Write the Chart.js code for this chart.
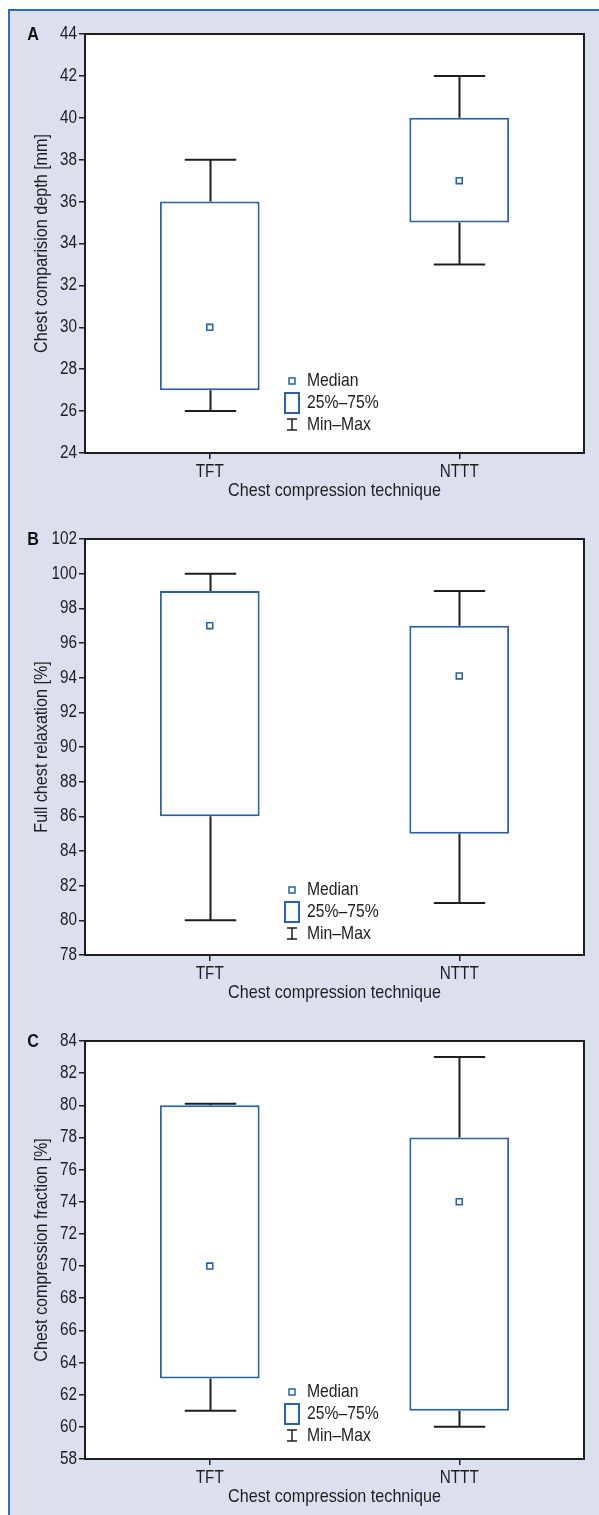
<!DOCTYPE html>
<html>
<head>
<meta charset="utf-8">
<script src="https://cdn.jsdelivr.net/npm/chart.js@4.4.1/dist/chart.umd.min.js"></script>
<style>
  html, body { margin: 0; padding: 0; background: #fff; }
  body { width: 599px; height: 1515px; position: relative; overflow: hidden; }
  #frame {
    position: absolute; left: 8px; top: 9px; width: 600px; height: 1520px;
    border-left: 2px solid #2f6cb3; border-top: 2px solid #2f6cb3;
    background: #dcdfee;
  }
  canvas { position: absolute; left: 0; }
</style>
</head>
<body>
<div id="frame"></div>
<canvas id="chartA" width="599" height="505" style="top:0px"></canvas>
<canvas id="chartB" width="599" height="502" style="top:505px"></canvas>
<canvas id="chartC" width="599" height="508" style="top:1007px"></canvas>
<script>
const categories = ['TFT', 'NTTT'];

// A - chest compression depth [mm]
const depthMin = [26, 33];
const depthQ1 = [27, 35];
const depthMedian = [30, 37];
const depthQ3 = [36, 40];
const depthMax = [38, 42];
const depthTicks = [24, 44];

// B - full chest relaxation [%]
const relaxMin = [80, 81];
const relaxQ1 = [86, 85];
const relaxMedian = [97, 94.1];
const relaxQ3 = [99, 97];
const relaxMax = [100, 99];
const relaxTicks = [78, 102];

// C - chest compression fraction [%]
const fractionMin = [61, 60];
const fractionQ1 = [63, 61];
const fractionMedian = [70, 74];
const fractionQ3 = [80, 78];
const fractionMax = [80.1, 83];
const fractionTicks = [58, 84];

const FONT = '"Liberation Sans", Arial, sans-serif';
const BLUE = '#2763a8';
const INK = '#1e1e1e';

// the figure uses a condensed face, so squeeze every text run sideways
function condense(canvas, k) {
  const ctx = canvas.getContext('2d');
  const fill = ctx.fillText.bind(ctx);
  ctx.fillText = function(text, x, y, maxWidth) {
    ctx.save();
    ctx.translate(x, y);
    ctx.scale(k, 1);
    if (maxWidth === undefined) fill(text, 0, 0);
    else fill(text, 0, 0, maxWidth / k);
    ctx.restore();
  };
  return canvas;
}

const boxExtras = {
  id: 'boxExtras',
  beforeDraw(chart) {
    const a = chart.chartArea, ctx = chart.ctx;
    ctx.save();
    ctx.fillStyle = '#fff';
    ctx.fillRect(a.left, a.top, a.right - a.left, a.bottom - a.top);
    ctx.restore();
  },
  afterDatasetsDraw(chart, args, opts) {
    const ctx = chart.ctx, x = chart.scales.x, y = chart.scales.y;
    const step = x.getPixelForValue(1) - x.getPixelForValue(0);
    const cap = step * 0.103;
    ctx.save();
    ctx.strokeStyle = INK;
    ctx.lineWidth = 2;
    opts.min.forEach(function(v, i) {
      const cx = Math.round(x.getPixelForValue(i)) + 0.5;
      const yMin = y.getPixelForValue(v), yMax = y.getPixelForValue(opts.max[i]);
      const yQ1 = y.getPixelForValue(opts.q1[i]), yQ3 = y.getPixelForValue(opts.q3[i]);
      ctx.beginPath();
      ctx.moveTo(cx, yQ1); ctx.lineTo(cx, yMin);
      ctx.moveTo(cx - cap, yMin); ctx.lineTo(cx + cap, yMin);
      ctx.moveTo(cx, yQ3); ctx.lineTo(cx, yMax);
      ctx.moveTo(cx - cap, yMax); ctx.lineTo(cx + cap, yMax);
      ctx.stroke();
    });
    ctx.restore();
  },
  afterDraw(chart, args, opts) {
    const a = chart.chartArea, ctx = chart.ctx;
    ctx.save();
    // frame round the plot
    ctx.strokeStyle = INK;
    ctx.lineWidth = 2;
    ctx.strokeRect(a.left, a.top, a.right - a.left, a.bottom - a.top);
    // panel letter
    ctx.fillStyle = '#111';
    ctx.font = 'bold 19px ' + FONT;
    ctx.textAlign = 'center';
    ctx.textBaseline = 'middle';
    ctx.fillText(opts.letter, 33, a.top + 1);
    // legend
    const lx = a.left + 207, ly = opts.legendY;
    ctx.lineWidth = 1.5;
    ctx.strokeStyle = BLUE;
    ctx.fillStyle = '#fff';
    ctx.fillRect(lx - 3, ly - 3, 6, 6);
    ctx.strokeRect(lx - 3, ly - 3, 6, 6);
    ctx.lineWidth = 2;
    ctx.strokeRect(lx - 7, ly + 12, 14, 20);
    ctx.strokeStyle = INK;
    ctx.lineWidth = 1.5;
    ctx.beginPath();
    ctx.moveTo(lx, ly + 38); ctx.lineTo(lx, ly + 49);
    ctx.moveTo(lx - 5, ly + 38); ctx.lineTo(lx + 5, ly + 38);
    ctx.moveTo(lx - 5, ly + 49); ctx.lineTo(lx + 5, ly + 49);
    ctx.stroke();
    ctx.fillStyle = INK;
    ctx.font = '18.5px ' + FONT;
    ctx.textAlign = 'left';
    ctx.fillText('Median', lx + 15, ly);
    ctx.fillText('25%\u201375%', lx + 15, ly + 22);
    ctx.fillText('Min\u2013Max', lx + 15, ly + 44);
    ctx.restore();
  }
};

function makeChart(id, p) {
  const boxes = p.q1.map(function(v, i) { return [v, p.q3[i]]; });
  return new Chart(condense(document.getElementById(id), 0.85), {
    type: 'bar',
    data: {
      labels: categories,
      datasets: [
        {
          type: 'line',
          data: p.median,
          showLine: false,
          pointStyle: 'rect',
          pointRadius: 4.2,
          pointBorderWidth: 1.6,
          pointBorderColor: BLUE,
          pointBackgroundColor: '#fff',
          order: 0
        },
        {
          data: boxes,
          backgroundColor: '#fff',
          borderColor: BLUE,
          borderWidth: 2,
          borderSkipped: false,
          barPercentage: 0.4,
          categoryPercentage: 1,
          order: 1
        }
      ]
    },
    options: {
      responsive: false,
      animation: false,
      devicePixelRatio: 1,
      layout: { padding: { top: 34, right: 15, left: 0, bottom: p.padBottom } },
      plugins: {
        legend: { display: false },
        tooltip: { enabled: false },
        boxExtras: { min: p.min, max: p.max, q1: p.q1, q3: p.q3, letter: p.letter, legendY: p.legendY }
      },
      scales: {
        x: {
          grid: { display: true, drawOnChartArea: false, offset: false, tickLength: 6, color: INK, lineWidth: 1.5 },
          border: { display: false },
          ticks: { color: INK, font: { family: FONT, size: 18 }, padding: 2, maxRotation: 0 },
          title: { display: true, text: 'Chest compression technique', color: INK,
                   font: { family: FONT, size: 19 }, padding: { top: 0, bottom: 3 } },
          afterFit: function(s) { s.height = 52; }
        },
        y: {
          min: p.ticks[0],
          max: p.ticks[1],
          grid: { display: true, drawOnChartArea: false, tickLength: 6, color: INK, lineWidth: 1.5 },
          border: { display: false },
          ticks: { stepSize: 2, color: INK, font: { family: FONT, size: 18 }, padding: 2 },
          title: { display: true, text: p.yTitle, color: INK,
                   font: { family: FONT, size: 19 }, padding: { top: 30, bottom: 0 } },
          afterFit: function(s) { s.width = 85; }
        }
      }
    },
    plugins: [boxExtras]
  });
}

makeChart('chartA', {
  letter: 'A', yTitle: 'Chest comparision depth [mm]', ticks: depthTicks,
  min: depthMin, q1: depthQ1, median: depthMedian, q3: depthQ3, max: depthMax,
  legendY: 381, padBottom: 0
});
makeChart('chartB', {
  letter: 'B', yTitle: 'Full chest relaxation [%]', ticks: relaxTicks,
  min: relaxMin, q1: relaxQ1, median: relaxMedian, q3: relaxQ3, max: relaxMax,
  legendY: 385, padBottom: 0
});
makeChart('chartC', {
  letter: 'C', yTitle: 'Chest compression fraction [%]', ticks: fractionTicks,
  min: fractionMin, q1: fractionQ1, median: fractionMedian, q3: fractionQ3, max: fractionMax,
  legendY: 385, padBottom: 4
});
</script>
</body>
</html>
